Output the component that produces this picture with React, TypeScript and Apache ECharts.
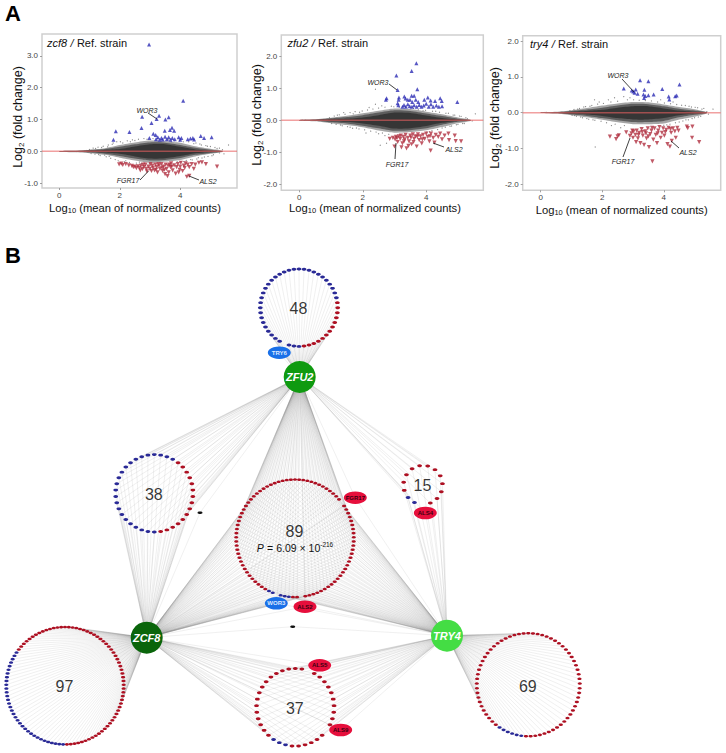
import React, { useEffect, useRef } from "react";
import * as echarts from "echarts";

// ---------- Panel A data ----------
const xTicks = [0, 2, 4];
const yTicksA = [-1, 0, 1, 2, 3];
const yTicksB = [-2, -1, 0, 1, 2];

const zcf8Blue = [[2.97,3.36],[4.1,1.59],[3.22,1.02],[3.3,1.12],[2.74,1.09],[3.51,1.0],[3.62,1.07],[3.05,.89],[2.72,.73],[1.87,.63],[2.32,.61],[1.79,.36],[3.73,.74],[3.66,.67],[3.8,.65],[3.49,.65],[3.11,.55],[3.19,.51],[2.98,.42],[4.68,.48],[4.79,.42],[5.04,.44],[3.2,.38],[3.26,.44],[3.32,.36],[3.38,.42],[3.42,.37],[3.5,.46],[3.56,.38],[3.62,.44],[3.68,.36],[3.74,.42],[3.82,.38],[3.95,.44],[4.0,.36],[4.04,.42],[4.25,.38],[4.34,.4],[4.42,.42],[4.46,.37]];
const zcf8Red = [[1.98,-.41],[2.05,-.39],[2.1,-.43],[2.2,-.4],[2.3,-.44],[2.4,-.46],[2.45,-.5],[2.5,-.48],[2.55,-.53],[2.6,-.47],[2.65,-.52],[2.7,-.45],[2.75,-.56],[2.8,-.5],[2.85,-.42],[2.9,-.63],[2.95,-.48],[3.0,-.55],[3.02,-.4],[3.08,-.45],[3.1,-.52],[3.15,-.6],[3.18,-.42],[3.22,-.5],[3.25,-.66],[3.3,-.45],[3.33,-.55],[3.38,-.4],[3.42,-.62],[3.45,-.48],[3.5,-.72],[3.52,-.42],[3.55,-.55],[3.6,-.45],[3.62,-.66],[3.68,-.5],[3.7,-.38],[3.75,-.6],[3.8,-.44],[3.85,-.7],[3.88,-.5],[3.92,-.4],[3.98,-.58],[4.02,-.36],[4.08,-.62],[4.12,-.45],[4.18,-.38],[4.22,-.8],[4.3,-.77],[4.3,-.5],[4.38,-.4],[4.45,-.55],[4.5,-.42],[4.62,-.36],[4.72,-.35],[4.85,-.4],[5.22,-.48],[3.2,-.58],[3.4,-.52],[3.65,-.42],[2.68,-.6],[2.78,-.42],[3.95,-.66],[4.0,-.48],[3.05,-.62],[3.28,-.4],[3.48,-.58],[3.72,-.48],[3.58,-.78],[2.88,-.55],[4.15,-.52],[4.25,-.42]];
const zcf8Grey = [[5.6,.2],[5.4,.05],[5.3,-.05],[5.15,.12],[5.05,-.14],[4.9,.16],[4.8,-.18],[4.7,.2],[4.6,-.2],[1.75,.22],[1.65,-.16],[1.6,.14],[1.5,-.12],[1.4,.12],[1.85,-.26],[2.1,.26],[2.2,-.3],[2.35,.3],[1.3,-.1],[1.2,.09],[4.45,.24],[4.35,-.26],[2.5,.34],[2.65,-.34],[2.9,.38],[3.7,.3],[4.1,.3],[4.2,-.29],[3.9,-.33],[5.45,-.08],
  [1.0,.06],[1.05,-.07],[1.12,.1],[1.18,-.09],[1.28,.13],[1.35,-.13],[1.45,.16],[1.55,-.17],[1.62,.2],[1.7,-.22],[1.78,.26],[1.9,.3],[1.95,-.3],[2.02,.3],[2.15,-.33],[2.25,.33],[2.32,-.35],[2.42,.36],[2.55,-.37],[2.62,.38],[2.72,-.38],[2.8,.4],[2.98,-.39],[3.1,.4],[3.25,.4],[3.4,.37],[3.6,.36],[3.8,.33],[3.98,.33],[4.02,-.33],[4.12,-.32],[4.28,.3],[4.4,-.27],[4.52,.26],[4.55,-.24],[4.65,.23],[4.72,-.21],[4.85,.18],[4.92,-.16],[5.0,.15],[5.1,-.11],[5.22,.09],[5.3,.1]];
const zcf8BandX = [0, 0.5, 1, 1.5, 2, 2.5, 3, 3.5, 4, 4.5, 5, 5.4];
const zcf8OuterUp = [.012,.02,.05,.1,.2,.28,.34,.32,.27,.16,.08,.02];
const zcf8OuterDown = [-.012,-.03,-.06,-.11,-.2,-.29,-.36,-.32,-.27,-.16,-.08,-.02];
const zcf8MidUp = [.008,.015,.04,.07,.14,.22,.28,.27,.2,.11,.05,.01];
const zcf8MidDown = [-.008,-.015,-.04,-.08,-.15,-.23,-.29,-.27,-.21,-.11,-.05,-.01];
const zcf8CoreUp = [.004,.008,.02,.04,.07,.15,.22,.22,.14,.06,.02,.005];
const zcf8CoreDown = [-.004,-.008,-.02,-.04,-.08,-.16,-.23,-.22,-.15,-.06,-.02,-.005];

const zfu2Blue = [[3.69,1.78],[3.54,1.54],[3.06,1.4],[3.1,.95],[3.72,.97],[2.75,.69],[2.73,.64],[3.14,.71],[3.13,.64],[3.1,.53],[3.12,.47],[3.31,.74],[3.35,.68],[3.42,.64],[3.54,.77],[3.62,.77],[3.49,.64],[3.56,.57],[3.67,.64],[3.75,.57],[4.05,.71],[3.94,.64],[4.14,.62],[4.28,.6],[4.44,.69],[4.49,.6],[4.98,.57],[3.25,.42],[3.3,.48],[3.36,.42],[3.42,.5],[3.48,.44],[3.55,.42],[3.62,.47],[3.7,.42],[3.78,.48],[3.85,.42],[3.92,.46],[4.0,.52],[4.08,.42],[4.15,.5],[4.22,.42],[4.32,.46],[4.4,.42],[4.5,.44]];
const zfu2Red = [[2.85,-.58],[2.95,-.55],[3.02,-.6],[3.05,-.52],[3.1,-.68],[3.14,-.5],[3.18,-.58],[3.22,-.85],[3.25,-.72],[3.28,-.52],[3.32,-.6],[3.35,-.46],[3.38,-.88],[3.42,-.55],[3.46,-.66],[3.5,-.48],[3.54,-.75],[3.58,-.44],[3.62,-.58],[3.66,-.5],[3.7,-.82],[3.74,-.44],[3.78,-.62],[3.82,-.5],[3.86,-.72],[3.9,-.46],[3.95,-.58],[4.0,-.42],[4.05,-.52],[4.1,-.66],[4.15,-.42],[4.14,-.95],[4.22,-.55],[4.26,-.7],[4.3,-.46],[4.38,-.52],[4.44,-.42],[4.5,-.6],[4.58,-.48],[4.7,-.42],[4.72,-.62],[4.9,-.48],[4.93,-.65],[5.1,-.66],[3.0,-.82],[3.2,-.48],[3.44,-.8],[3.6,-.68],[3.08,-.56],[3.3,-.66],[3.52,-.54],[3.72,-.52],[3.88,-.6],[4.12,-.5]];
const zfu2Grey = [[5.55,.2],[5.3,.05],[5.2,-.1],[5.1,.12],[5.0,-.13],[4.9,.16],[4.8,-.18],[4.7,.22],[2.4,.97],[2.4,.5],[2.2,.4],[2.1,-.4],[1.9,.25],[1.8,-.24],[1.7,.2],[1.6,-.22],[1.4,.24],[1.3,-.15],[1.2,.16],[2.5,-.42],[2.6,.45],[2.7,-.48],[2.75,-.72],[2.55,-.78],[2.9,.44],[3.9,.3],[4.1,-.36],[4.3,.28],[4.5,-.24],[5.45,-.02],
  [.95,.08],[1.02,-.1],[1.1,.13],[1.16,-.13],[1.26,.17],[1.35,-.17],[1.44,.19],[1.52,-.2],[1.6,.24],[1.68,-.25],[1.76,.27],[1.88,-.27],[1.98,.29],[2.06,-.3],[2.15,.32],[2.25,-.34],[2.32,.35],[2.42,-.37],[2.5,.38],[2.62,-.4],[2.7,.41],[2.82,-.44],[2.98,.42],[3.15,.41],[3.35,.4],[3.6,.37],[3.75,.33],[3.98,.31],[4.02,-.37],[4.18,-.33],[4.2,.28],[4.36,-.29],[4.42,.25],[4.6,-.22],[4.62,.22],[4.75,-.19],[4.85,.16],[4.95,-.14],[5.05,.13],[5.15,-.1],[5.25,.08]];
const zfu2BandX = [0, 0.5, 1, 1.5, 2, 2.5, 3, 3.5, 4, 4.5, 5, 5.4];
const zfu2OuterUp = [.012,.03,.08,.14,.22,.3,.37,.35,.27,.19,.09,.02];
const zfu2OuterDown = [-.012,-.03,-.09,-.15,-.22,-.32,-.39,-.37,-.31,-.21,-.09,-.02];
const zfu2MidUp = [.008,.02,.06,.1,.16,.24,.31,.29,.21,.13,.05,.01];
const zfu2MidDown = [-.008,-.02,-.06,-.1,-.17,-.25,-.33,-.31,-.25,-.14,-.05,-.01];
const zfu2CoreUp = [.004,.01,.03,.05,.09,.16,.24,.23,.15,.07,.02,.005];
const zfu2CoreDown = [-.004,-.01,-.03,-.05,-.1,-.17,-.26,-.25,-.18,-.08,-.02,-.005];

const try4Blue = [[3.23,.91],[3.5,.88],[4.51,.79],[3.95,.66],[2.7,.68],[3.37,.64],[3.09,.65],[2.96,.62],[3.01,.59],[3.05,.56],[3.15,.53],[3.34,.51],[3.67,.51],[3.5,.49],[3.4,.47],[3.36,.41],[4.16,.45],[4.18,.37],[4.37,.46],[4.42,.48]];
const try4Red = [[2.25,-.67],[2.45,-.74],[2.54,-.63],[2.5,-.66],[2.78,-.55],[2.9,-.65],[2.95,-.58],[3.0,-.7],[3.02,-.52],[3.08,-.62],[3.12,-.5],[3.16,-.72],[3.2,-.56],[3.24,-.85],[3.28,-.46],[3.32,-.64],[3.36,-.9],[3.4,-.52],[3.44,-.72],[3.48,-.44],[3.52,-.96],[3.56,-.6],[3.6,-.5],[3.63,-1.36],[3.66,-.75],[3.7,-.44],[3.74,-.62],[3.78,-.85],[3.82,-.5],[3.86,-.4],[3.9,-.7],[3.94,-.56],[3.98,-.44],[4.02,-.64],[4.08,-.48],[4.12,-.88],[4.16,-.42],[4.2,-.95],[4.26,-.79],[4.24,-.56],[4.3,-.44],[4.36,-.52],[4.39,-.7],[4.44,-.42],[4.48,-.5],[4.75,-.39],[4.78,-.43],[4.92,-.7],[4.93,-.39],[5.15,-.82],[3.1,-.82],[3.3,-.54],[3.5,-.66],[2.98,-.5],[3.18,-.62],[3.42,-.58],[3.62,-.42],[3.8,-.58],[4.05,-.54],[4.22,-.46]];
const try4Grey = [[5.6,.1],[5.4,.03],[5.3,.12],[5.2,-.1],[5.1,.14],[5.0,-.14],[4.9,.16],[4.8,-.2],[4.7,.2],[1.77,-.96],[1.75,.36],[1.9,.3],[1.7,-.2],[1.6,.18],[1.5,-.16],[1.4,.16],[1.3,-.12],[2.2,.36],[2.4,.42],[2.3,-.36],[2.6,-.42],[2.7,.45],[2.9,.42],[3.9,.36],[4.1,-.34],[4.3,.3],[4.5,-.26],[1.2,.1],[1.1,-.08],[5.45,-.04],
  [.95,.06],[1.02,-.07],[1.08,.09],[1.16,-.1],[1.26,.12],[1.36,-.14],[1.46,.17],[1.56,-.18],[1.66,.2],[1.76,-.21],[1.85,.24],[1.96,-.24],[2.04,.26],[2.14,-.28],[2.28,.3],[2.42,-.32],[2.5,.32],[2.72,-.36],[2.82,.36],[3.02,.36],[3.2,.35],[3.4,.34],[3.6,.33],[3.8,.3],[4.02,.27],[4.0,-.35],[4.2,-.32],[4.22,.25],[4.38,-.28],[4.42,.23],[4.62,-.23],[4.58,.21],[4.72,-.2],[4.82,.18],[4.92,-.16],[5.02,.15],[5.12,-.12],[5.24,.1]];
const try4BandX = [0, 0.5, 1, 1.5, 2, 2.5, 3, 3.5, 4, 4.5, 5, 5.4];
const try4OuterUp = [.01,.025,.07,.13,.2,.26,.3,.29,.23,.16,.1,.02];
const try4OuterDown = [-.01,-.025,-.07,-.13,-.2,-.27,-.32,-.32,-.3,-.19,-.11,-.02];
const try4MidUp = [.006,.015,.05,.09,.14,.2,.25,.24,.18,.11,.06,.01];
const try4MidDown = [-.006,-.015,-.05,-.09,-.15,-.21,-.26,-.26,-.23,-.13,-.06,-.01];
const try4CoreUp = [.003,.008,.03,.05,.08,.14,.18,.18,.12,.06,.025,.005];
const try4CoreDown = [-.003,-.008,-.03,-.05,-.09,-.15,-.19,-.19,-.15,-.07,-.025,-.005];

// ---------- Panel B data ----------
const hubNames = ["ZFU2", "ZCF8", "TRY4"];
const clusterCounts = [48, 38, 15, 89, 97, 37, 69];
// which hubs (by index) each gene set is attached to
const clusterHubs = [[0], [0, 1], [0, 2], [0, 1, 2], [1], [1, 2], [2]];
// clock-degree range of the blue part of each ring
const clusterBlueArcs = [[180, 439], [180, 397], [195, 240], [183, 210], [181, 307], [187, 215], [183, 218]];
// ring slots left empty because the gene is drawn outside the ring, as clock degrees
const clusterGaps = [[205], [], [182], [51, 175, 197], [], [23, 127], []];
const namedGenes = ["TRY6", "FGR17", "ALS4", "WOR3", "ALS2", "ALS5", "ALS9"];
const namedGeneHubs = [[0], [0, 1, 2], [0, 2], [0, 1, 2], [0, 1, 2], [1, 2], [1, 2]];
const namedGeneUp = [true, false, false, true, false, false, false];
const unnamedHubs = [[0, 1], [1, 2]];

// ---------- Layout ----------
const plotLayout = [
  { left: 42, top: 34, width: 195, height: 154, xMin: -0.573, xMax: 5.88, yMin: -1.154, yMax: 3.69 },
  { left: 281.3, top: 35, width: 202, height: 155.3, xMin: -0.568, xMax: 5.8, yMin: -2.19, yMax: 2.666 },
  { left: 522.7, top: 35.7, width: 198, height: 154.6, xMin: -0.585, xMax: 5.85, yMin: -2.17, yMax: 2.154 },
];
const hubLayout = [[299.7, 377], [146.7, 637.7], [447, 635.7]];
const hubColors = ["#0f9a10", "#0a650b", "#44dd44"];
const clusterLayout = [
  { cx: 299, cy: 307.7, r: 38.7, labelY: 309, startDeg: 0 },
  { cx: 154.3, cy: 493.3, r: 38.7, labelY: 495.3, startDeg: 0 },
  { cx: 423, cy: 485, r: 19.5, labelY: 486, startDeg: 14 },
  { cx: 295, cy: 538.3, r: 58.8, labelY: 532, startDeg: 0 },
  { cx: 65, cy: 685.7, r: 58.7, labelY: 687, startDeg: 0 },
  { cx: 295.3, cy: 707.3, r: 38.8, labelY: 708.7, startDeg: 0 },
  { cx: 528.3, cy: 684.7, r: 51.5, labelY: 686.7, startDeg: 0 },
];
const namedLayout = [[279.3, 352.7], [355.3, 497.7], [425.3, 513], [276.3, 603.3], [305, 606.7], [319.7, 665.3], [340.7, 730]];
const unnamedLayout = [[200, 512.7], [292.7, 626.7]];

const annotations = [
  ["WOR3", 147, 110, 148, 113, 157, 119], ["FGR17", 128, 180, 140, 180, 148.5, 171], ["ALS2", 208, 181, 199, 180, 189, 176],
  ["WOR3", 378, 82, 389, 84, 397, 90], ["FGR17", 397, 164, 396, 143, 395, 159], ["ALS2", 454, 149, 444, 147, 433, 143],
  ["WOR3", 618, 75, 622, 79, 634, 92], ["FGR17", 623, 161, 623, 157, 630, 138], ["ALS2", 688, 152, 679, 148, 671, 141],
];

const FONT = '"Liberation Sans", Arial, sans-serif';
const BLUE_DOT = "#2a2a96";
const RED_DOT = "#ad1022";

const inArc = (deg: number, a: number[]) => {
  const d = ((deg % 360) + 360) % 360;
  return (d >= a[0] && d <= a[1]) || (d + 360 >= a[0] && d + 360 <= a[1]);
};

function bandSeries(idx: number, xs: number[], up: number[], down: number[], color: string, z: number) {
  return {
    type: "custom", xAxisIndex: idx, yAxisIndex: idx, silent: true, z, clip: false,
    data: [0],
    renderItem: (_p: any, api: any) => {
      const pts = xs.map((x, i) => api.coord([x, up[i]]));
      for (let i = xs.length - 1; i >= 0; i--) pts.push(api.coord([xs[i], down[i]]));
      return { type: "polygon", shape: { points: pts, smooth: 0.25 }, style: { fill: color } };
    },
  };
}

function buildPlot(idx: number, blue: number[][], red: number[][], grey: number[][], xs: number[], bands: number[][]) {
  const L = plotLayout[idx];
  return [
    bandSeries(idx, xs, bands[0], bands[1], "rgba(105,105,105,0.6)", 2),
    bandSeries(idx, xs, bands[2], bands[3], "rgba(70,70,70,0.75)", 3),
    bandSeries(idx, xs, bands[4], bands[5], "rgba(50,50,50,0.9)", 3),
    { type: "scatter", xAxisIndex: idx, yAxisIndex: idx, silent: true, z: 2, symbol: "circle", symbolSize: 1.2, itemStyle: { color: "#6e6e6e" }, data: grey },
    { type: "line", xAxisIndex: idx, yAxisIndex: idx, silent: true, z: 4, symbol: "none", lineStyle: { color: "rgba(232,96,96,0.6)", width: 1.5 }, data: [[L.xMin, 0], [L.xMax, 0]] },
    { type: "scatter", xAxisIndex: idx, yAxisIndex: idx, silent: true, z: 5, symbol: "triangle", symbolSize: 4, itemStyle: { color: "#2c2cb4" }, data: blue },
    { type: "scatter", xAxisIndex: idx, yAxisIndex: idx, silent: true, z: 5, symbol: "triangle", symbolRotate: 180, symbolSize: 4.2, itemStyle: { color: "#b03040" }, data: red },
  ];
}

function buildNetwork() {
  const nodes: any[] = [];
  const links: any[] = [];
  const linkStyle = { color: "rgba(120,120,120,0.22)", width: 0.5, opacity: 1 };
  hubNames.forEach((name, i) => {
    nodes.push({
      name: "hub" + i, value: hubLayout[i], symbolSize: 32, itemStyle: { color: hubColors[i] },
      label: { show: true, position: "inside", formatter: name, color: "#fff", fontSize: 11, fontWeight: "bold", fontStyle: "italic", fontFamily: FONT },
    });
  });
  clusterCounts.forEach((n, c) => {
    const L = clusterLayout[c];
    const small = n > 60;
    for (let s = 0; s < n; s++) {
      const deg = L.startDeg + (s * 360) / n;
      const gapHit = clusterGaps[c].some((g) => {
        const diff = Math.abs(((deg - g + 540) % 360) - 180);
        return diff < 180 / n;
      });
      if (gapHit) continue;
      const rad = (deg * Math.PI) / 180;
      const id = nodes.length;
      nodes.push({
        name: "d" + id,
        value: [L.cx + L.r * Math.sin(rad), L.cy - L.r * Math.cos(rad)],
        symbolSize: small ? [4.2, 2.5] : [4.8, 2.9],
        itemStyle: { color: inArc(deg, clusterBlueArcs[c]) ? BLUE_DOT : RED_DOT },
      });
      clusterHubs[c].forEach((h) => links.push({ source: id, target: h, lineStyle: linkStyle }));
    }
  });
  namedGenes.forEach((g, i) => {
    const id = nodes.length;
    nodes.push({
      name: g, value: namedLayout[i], symbolSize: [23, 12.5],
      itemStyle: { color: namedGeneUp[i] ? "#1a70e8" : "#e60f3c" },
      label: { show: true, position: "inside", formatter: g, fontSize: 6, fontWeight: "bold", fontFamily: FONT, color: namedGeneUp[i] ? "#dfe9ff" : "#3a0010" },
    });
    namedGeneHubs[i].forEach((h) => links.push({ source: id, target: h, lineStyle: linkStyle }));
  });
  unnamedLayout.forEach((p, i) => {
    const id = nodes.length;
    nodes.push({ name: "u" + i, value: p, symbolSize: [5, 2.6], itemStyle: { color: "#111" } });
    unnamedHubs[i].forEach((h) => links.push({ source: id, target: h, lineStyle: linkStyle }));
  });
  return {
    type: "graph", coordinateSystem: "cartesian2d", xAxisIndex: 3, yAxisIndex: 3, layout: "none",
    silent: true, z: 2, roam: false, emphasis: { disabled: true },
    data: nodes, links,
  };
}

function buildGraphic() {
  const g: any[] = [];
  const titleY = [43, 43, 44];
  const titleX = [47, 287.5, 530];
  ["zcf8", "zfu2", "try4"].forEach((t, i) => {
    g.push({
      type: "text", x: titleX[i], y: titleY[i], z: 10,
      style: {
        text: `{i|${t}} {i|/} {n|Ref. strain}`, align: "left", verticalAlign: "middle",
        rich: { i: { fontSize: 11, fontStyle: "italic", fontFamily: FONT, fill: "#111" }, n: { fontSize: 11, fontFamily: FONT, fill: "#111" } },
      },
    });
  });
  const xRich = {
    n: { fontSize: 11.2, fontFamily: FONT, fill: "#111", lineHeight: 12 },
    s: { fontSize: 7.5, fontFamily: FONT, fill: "#111", verticalAlign: "bottom", lineHeight: 8 },
  };
  const yRich = {
    n: { fontSize: 12.5, fontFamily: FONT, fill: "#111", lineHeight: 14 },
    s: { fontSize: 8, fontFamily: FONT, fill: "#111", verticalAlign: "bottom", lineHeight: 9 },
  };
  [[135, 208], [375, 208], [621.7, 210]].forEach((p) => {
    g.push({ type: "text", x: p[0], y: p[1], z: 10, style: { text: "{n|Log}{s|10}{n| (mean of normalized counts)}", align: "center", verticalAlign: "middle", rich: xRich } });
  });
  [[18, 117], [257, 115], [495, 118]].forEach((p) => {
    g.push({ type: "text", x: p[0], y: p[1], z: 10, rotation: Math.PI / 2, style: { text: "{n|Log}{s|2}{n| (fold change)}", align: "center", verticalAlign: "middle", rich: yRich } });
  });
  annotations.forEach((a: any) => {
    g.push({ type: "line", z: 10, shape: { x1: a[3], y1: a[4], x2: a[5], y2: a[6] }, style: { stroke: "#111", lineWidth: 0.8 } });
    g.push({ type: "text", x: a[1], y: a[2], z: 10, style: { text: a[0], align: "center", verticalAlign: "middle", fontSize: 7, fontStyle: "italic", fontFamily: FONT, fill: "#222" } });
  });
  g.push({ type: "text", x: 5, y: 13, z: 10, style: { text: "A", align: "left", verticalAlign: "middle", fontSize: 22, fontWeight: "bold", fontFamily: FONT, fill: "#000" } });
  g.push({ type: "text", x: 5, y: 255, z: 10, style: { text: "B", align: "left", verticalAlign: "middle", fontSize: 22, fontWeight: "bold", fontFamily: FONT, fill: "#000" } });
  g.push({
    type: "text", x: 295, y: 547.7, z: 10,
    style: {
      text: "{i|P} {n|= 6.09 × 10}{s|-216}", align: "center", verticalAlign: "middle",
      rich: {
        i: { fontSize: 10.5, fontStyle: "italic", fontFamily: FONT, fill: "#111", lineHeight: 14 },
        n: { fontSize: 10.5, fontFamily: FONT, fill: "#111", lineHeight: 14 },
        s: { fontSize: 6.5, fontFamily: FONT, fill: "#111", verticalAlign: "top", lineHeight: 10 },
      },
    },
  });
  return g;
}

export default function App() {
  const ref = useRef<HTMLDivElement>(null);
  useEffect(() => {
    document.body.style.margin = "0";
    const chart = echarts.init(ref.current!, null, { renderer: "svg" });
    const yFmt = (v: number) => (v < 0 ? "-" : "") + Math.abs(v).toFixed(1);
    const yTickSets = [yTicksA, yTicksB, yTicksB];
    const xAxes: any[] = plotLayout.map((L, i) => ({
      type: "value", gridIndex: i, min: L.xMin, max: L.xMax, splitLine: { show: false },
      axisLine: { show: false, onZero: false }, axisTick: { show: true, length: 2, customValues: xTicks, lineStyle: { color: "#888", width: 0.8 } },
      axisLabel: { customValues: xTicks, fontSize: 8, color: "#444", fontFamily: FONT, margin: 3, formatter: (v: number) => String(v) },
    }));
    const yAxes: any[] = plotLayout.map((L, i) => ({
      type: "value", gridIndex: i, min: L.yMin, max: L.yMax, splitLine: { show: false },
      axisLine: { show: false, onZero: false }, axisTick: { show: true, length: 2, customValues: yTickSets[i], lineStyle: { color: "#888", width: 0.8 } },
      axisLabel: { customValues: yTickSets[i], fontSize: 8, color: "#444", fontFamily: FONT, margin: 4, formatter: yFmt },
    }));
    xAxes.push({ type: "value", gridIndex: 3, min: 0, max: 726, show: false });
    yAxes.push({ type: "value", gridIndex: 3, min: 0, max: 753, inverse: true, show: false });
    chart.setOption({
      animation: false,
      backgroundColor: "#fff",
      textStyle: { fontFamily: FONT },
      grid: [
        ...plotLayout.map((L) => ({ left: L.left, top: L.top, width: L.width, height: L.height, show: true, borderColor: "#cfcfcf", borderWidth: 1.5, backgroundColor: "transparent", containLabel: false })),
        { left: 0, top: 0, width: 726, height: 753 },
      ],
      xAxis: xAxes,
      yAxis: yAxes,
      series: [
        ...buildPlot(0, zcf8Blue, zcf8Red, zcf8Grey, zcf8BandX, [zcf8OuterUp, zcf8OuterDown, zcf8MidUp, zcf8MidDown, zcf8CoreUp, zcf8CoreDown]),
        ...buildPlot(1, zfu2Blue, zfu2Red, zfu2Grey, zfu2BandX, [zfu2OuterUp, zfu2OuterDown, zfu2MidUp, zfu2MidDown, zfu2CoreUp, zfu2CoreDown]),
        ...buildPlot(2, try4Blue, try4Red, try4Grey, try4BandX, [try4OuterUp, try4OuterDown, try4MidUp, try4MidDown, try4CoreUp, try4CoreDown]),
        buildNetwork(),
        {
          type: "scatter", xAxisIndex: 3, yAxisIndex: 3, silent: true, z: 6, symbolSize: 1, itemStyle: { color: "transparent" },
          data: clusterCounts.map((n, c) => ({ value: [clusterLayout[c].cx, clusterLayout[c].labelY], name: String(n) })),
          label: { show: true, position: [0, 0], align: "center", verticalAlign: "middle", formatter: "{b}", fontSize: 16, color: "#000", textBorderWidth: 0, fontFamily: FONT },
        },
      ],
      graphic: buildGraphic(),
    });
    return () => chart.dispose();
  }, []);
  return <div ref={ref} style={{ position: "absolute", left: 0, top: 0, width: 726, height: 753 }} />;
}
